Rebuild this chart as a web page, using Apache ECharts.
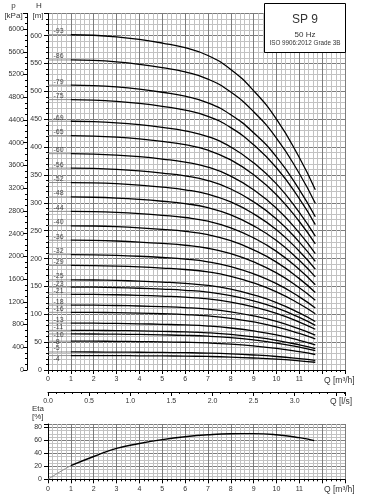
<!DOCTYPE html>
<html>
<head>
<meta charset="utf-8">
<script src="https://cdn.jsdelivr.net/npm/echarts@6/dist/echarts.min.js"></script>
<style>
html,body{margin:0;padding:0;background:#fff;}
#chart{width:368px;height:498px;}
</style>
</head>
<body>
<div id="chart"></div>
<script>
// ---- data ----
const qPoints = [0, 1, 2, 3, 4, 5, 6, 7, 8, 9, 10, 11, 11.7];            // m3/h
const headPerStage = [6.47, 6.47, 6.46, 6.43, 6.38, 6.31, 6.22, 6.07, 5.80, 5.39, 4.84, 4.10, 3.48]; // m per stage
const stages = [93, 86, 79, 75, 69, 65, 60, 56, 52, 48, 44, 40, 36, 32, 29, 25, 23, 21, 18, 16, 13, 11, 10, 8, 5, 4];
const etaQ = [0, 0.5, 1, 2, 3, 4, 5, 6, 7, 8, 9, 10, 11, 11.65];
const etaValues = [0, 11, 21, 35, 47.5, 55, 61, 65.5, 68.5, 70, 70.2, 68.5, 64, 59.5];
const title = 'SP 9';
const freq = '50 Hz';
const standard = 'ISO 9906:2012 Grade 3B';

// ---- styling ----
const FONT = 'Liberation Sans, Arial, sans-serif';
const TXT = '#333';
const MAJ = '#7c7c7c';
const MIN = '#c2c2c2';
const labelDy = {10: 1, 8: 1.2, 4: 3.5};
const H_MAX = 640, KPA = 9.80665, ETA_MAX = 85, Q_MAX = 13;

const chart = echarts.init(document.getElementById('chart'), null, {renderer: 'canvas'});

function xAxisBase(grid, showLabels) {
  return {
    type: 'value', gridIndex: grid, min: 0, max: Q_MAX, interval: 1,
    axisLine: {show: true, onZero: false, lineStyle: {color: '#000', width: 1}},
    axisTick: {show: true, length: 4, lineStyle: {color: '#000'}},
    minorTick: {show: true, splitNumber: 5, length: 2, lineStyle: {color: '#000'}},
    splitLine: {show: true, lineStyle: {color: MAJ, width: 1}},
    minorSplitLine: {show: true, lineStyle: {color: MIN, width: 1}},
    axisLabel: {show: showLabels, fontSize: 7, color: TXT, fontFamily: FONT, margin: 6,
      formatter: v => (v <= 11 ? String(v) : '')}
  };
}

const series = [];
stages.forEach((s, i) => {
  const pts = qPoints.map((q, k) => [q, +(headPerStage[k] * s).toFixed(2)]);
  series.push({
    type: 'line', xAxisIndex: 0, yAxisIndex: 2, data: pts.slice(0, 2),
    symbol: 'none', smooth: false, silent: true,
    lineStyle: {color: '#8c8c8c', width: 1}, z: 3
  });
  series.push({
    type: 'line', xAxisIndex: 0, yAxisIndex: 2, data: pts.slice(1),
    symbol: 'none', smooth: 0.5, silent: true,
    lineStyle: {color: '#000', width: 1.3}, z: 4
  });
});
// curve labels
series.push({
  type: 'scatter', xAxisIndex: 0, yAxisIndex: 2, symbolSize: 1, silent: true,
  itemStyle: {color: 'rgba(0,0,0,0)'}, z: 6,
  data: stages.map(s => ({
    value: [0, +(headPerStage[0] * s).toFixed(2)],
    label: {show: true, position: 'right', distance: 5,
      offset: [0, labelDy[s] !== undefined ? labelDy[s] : -3.5],
      formatter: '-' + s, fontSize: 7, color: '#222', fontFamily: FONT}
  }))
});
// efficiency
const etaPts = etaQ.map((q, k) => [q, etaValues[k]]);
series.push({
  type: 'line', xAxisIndex: 2, yAxisIndex: 5, data: etaPts.slice(0, 3),
  symbol: 'none', smooth: 0.5, silent: true, lineStyle: {color: '#8c8c8c', width: 1}, z: 3
});
series.push({
  type: 'line', xAxisIndex: 2, yAxisIndex: 5, data: etaPts.slice(2),
  symbol: 'none', smooth: 0.5, silent: true, lineStyle: {color: '#000', width: 1.4}, z: 4
});

const txt = (x, y, t, size, align, extra) => Object.assign({
  type: 'text', x: x, y: y, silent: true,
  style: {text: t, fontSize: size, fill: TXT, fontFamily: FONT, textAlign: align || 'left', textVerticalAlign: 'middle'}
}, extra || {});

const option = {
  animation: false,
  backgroundColor: '#fff',
  grid: [
    {left: 48, right: 23, top: 13.4, bottom: 128},
    {left: 48, right: 23, top: 391, height: 1},
    {left: 48, right: 23, top: 424, bottom: 18.7}
  ],
  xAxis: [
    xAxisBase(0, true),
    {
      type: 'value', gridIndex: 1, min: 0, max: Q_MAX / 3.6, interval: 0.5, position: 'bottom',
      axisLine: {show: true, onZero: false, lineStyle: {color: '#000'}},
      axisTick: {show: true, length: 4, lineStyle: {color: '#000'}},
      minorTick: {show: true, splitNumber: 5, length: 2, lineStyle: {color: '#000'}},
      splitLine: {show: false},
      axisLabel: {fontSize: 7, color: TXT, fontFamily: FONT, margin: 6,
        formatter: v => (v <= 3.0001 ? v.toFixed(1) : '')}
    },
    xAxisBase(2, true)
  ],
  yAxis: [
    {type: 'value', gridIndex: 0, min: 0, max: H_MAX, interval: 10, position: 'left',
      axisLine: {show: false}, axisTick: {show: false}, axisLabel: {show: false},
      splitLine: {show: true, lineStyle: {color: MIN, width: 1}}},
    {type: 'value', gridIndex: 0, min: 0, max: H_MAX * KPA, interval: 400, position: 'left', offset: 21,
      axisLine: {show: true, lineStyle: {color: '#000'}},
      axisTick: {show: true, length: 4, lineStyle: {color: '#000'}},
      minorTick: {show: true, splitNumber: 4, length: 2, lineStyle: {color: '#000'}},
      splitLine: {show: false},
      axisLabel: {fontSize: 7, color: TXT, fontFamily: FONT, margin: 3,
        formatter: v => (v <= 6000 && v % 400 === 0 ? String(v) : '')}},
    {type: 'value', gridIndex: 0, min: 0, max: H_MAX, interval: 50, position: 'left',
      axisLine: {show: true, lineStyle: {color: '#000'}},
      axisTick: {show: true, length: 4, lineStyle: {color: '#000'}},
      minorTick: {show: true, splitNumber: 5, length: 2, lineStyle: {color: '#000'}},
      splitLine: {show: true, lineStyle: {color: MAJ, width: 1}},
      axisLabel: {fontSize: 7, color: TXT, fontFamily: FONT, margin: 6,
        formatter: v => (v <= 600 && v % 50 === 0 ? String(v) : '')}},
    {type: 'value', gridIndex: 1, show: false, min: 0, max: 1},
    {type: 'value', gridIndex: 2, min: 0, max: ETA_MAX, interval: 5, position: 'left',
      axisLine: {show: false}, axisTick: {show: false}, axisLabel: {show: false},
      splitLine: {show: true, lineStyle: {color: MIN, width: 1}}},
    {type: 'value', gridIndex: 2, min: 0, max: ETA_MAX, interval: 20, position: 'left',
      axisLine: {show: true, lineStyle: {color: '#000'}},
      axisTick: {show: true, length: 4, lineStyle: {color: '#000'}},
      splitLine: {show: true, lineStyle: {color: MAJ, width: 1}},
      axisLabel: {fontSize: 7, color: TXT, fontFamily: FONT, margin: 6,
        formatter: v => (v <= 80 && v % 20 === 0 ? String(v) : '')}}
  ],
  series: series,
  graphic: [
    txt(13.5, 6, 'p', 8, 'center'),
    txt(13.5, 16, '[kPa]', 8, 'center'),
    txt(39, 6, 'H', 8, 'center'),
    txt(38, 16, '[m]', 8, 'center'),
    txt(324, 380.5, 'Q [m³/h]', 8.5, 'left'),
    txt(330, 402, 'Q [l/s]', 8.5, 'left'),
    txt(324, 489.5, 'Q [m³/h]', 8.5, 'left'),
    txt(32, 409, 'Eta', 8, 'left'),
    txt(32, 417, '[%]', 8, 'left'),
    {type: 'rect', shape: {x: 264.5, y: 3.5, width: 81, height: 49}, z: 10, silent: true,
      style: {fill: '#fff', stroke: '#000', lineWidth: 1}},
    txt(305, 20, title, 12, 'center', {z: 11}),
    txt(305, 34.5, freq, 8, 'center', {z: 11}),
    txt(305, 43.5, standard, 6.3, 'center', {z: 11})
  ]
};
chart.setOption(option);
</script>
</body>
</html>
